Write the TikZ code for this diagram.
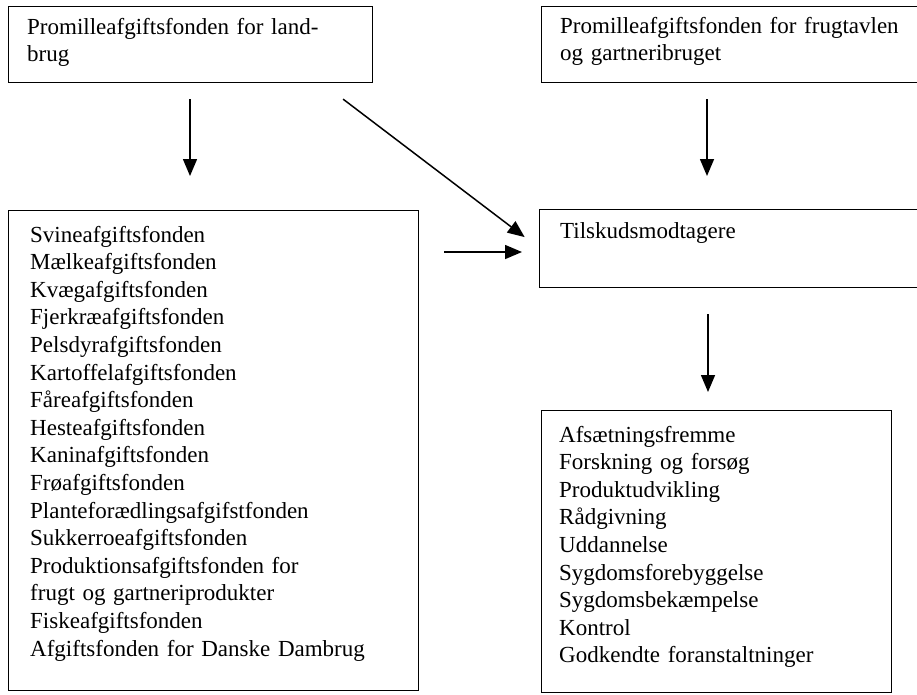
\documentclass[tikz,border=0pt]{standalone}
\usepackage{fontspec}
\setmainfont{Liberation Serif}
\usetikzlibrary{arrows.meta}

\tikzset{
	fondbox/.style={draw, line width=1.4pt, anchor=north west, inner sep=0pt},
	fondtxt/.style={anchor=base west, inner sep=0pt, align=left, text width=400pt,
		font=\fontsize{23}{27.6}\selectfont},
	pil/.style={line width=1.5pt, -{Triangle[width=14pt,length=17pt]}}
}

\begin{document}
\begin{tikzpicture}[x=1pt, y=-1pt]
		\useasboundingbox (0,0) rectangle (917,694);
		% The two top boxes (funds that pay)
		\node[fondbox, minimum width=364pt, minimum height=76pt] (landbrug) at (8,6) {};
		\node[fondtxt] (landbrugtxt) at ([xshift=19pt,yshift=-28pt]landbrug.north west)
			{Promilleafgiftsfonden for land-\\brug};
		\node[fondbox, minimum width=384pt, minimum height=76pt] (frugt) at (541,6) {};
		\node[fondtxt] (frugttxt) at ([xshift=19pt,yshift=-27pt]frugt.north west)
			{Promilleafgiftsfonden for frugtavlen\\og gartneribruget};
		% The sub funds
		\node[fondbox, minimum width=410pt, minimum height=480pt] (fonde) at (8,210) {};
		\node[fondtxt] (fondetxt) at ([xshift=22pt,yshift=-32pt]fonde.north west)
			{Svineafgiftsfonden\\
			Mælkeafgiftsfonden\\
			Kvægafgiftsfonden\\
			Fjerkræafgiftsfonden\\
			Pelsdyrafgiftsfonden\\
			Kartoffelafgiftsfonden\\
			Fåreafgiftsfonden\\
			Hesteafgiftsfonden\\
			Kaninafgiftsfonden\\
			Frøafgiftsfonden\\
			Planteforædlingsafgifstfonden\\
			Sukkerroeafgiftsfonden\\
			Produktionsafgiftsfonden for\\
			frugt og gartneriprodukter\\
			Fiskeafgiftsfonden\\
			Afgiftsfonden for Danske Dambrug};
		% Receivers and what the money goes to
		\node[fondbox, minimum width=386pt, minimum height=78pt] (tilskud) at (539,209) {};
		\node[fondtxt] (tilskudtxt) at ([xshift=21pt,yshift=-29pt]tilskud.north west)
			{Tilskudsmodtagere};
		\node[fondbox, minimum width=350pt, minimum height=282pt] (formaal) at (541,410) {};
		\node[fondtxt] (formaaltxt) at ([xshift=18pt,yshift=-32pt]formaal.north west)
			{Afsætningsfremme\\
			Forskning og forsøg\\
			Produktudvikling\\
			Rådgivning\\
			Uddannelse\\
			Sygdomsforebyggelse\\
			Sygdomsbekæmpelse\\
			Kontrol\\
			Godkendte foranstaltninger};
		% Arrows, they stop short of the boxes
		\draw[pil, shorten <=16pt, shorten >=34pt]
			([xshift=182pt]landbrug.south west) -- ([xshift=182pt]fonde.north west);
		\draw[pil, shorten <=26pt, shorten >=18pt]
			([xshift=-51pt]landbrug.south east) -- ([yshift=-39pt]tilskud.north west);
		\draw[pil, shorten <=25pt, shorten >=17pt]
			([yshift=-42pt]fonde.north east) -- ([yshift=-43pt]tilskud.north west);
		\draw[pil, shorten <=16pt, shorten >=33pt]
			([xshift=166pt]frugt.south west) -- ([xshift=168pt]tilskud.north west);
		\draw[pil, shorten <=26pt, shorten >=18pt]
			([xshift=169pt]tilskud.south west) -- ([xshift=167pt]formaal.north west);
		\end{tikzpicture}
\end{document}
